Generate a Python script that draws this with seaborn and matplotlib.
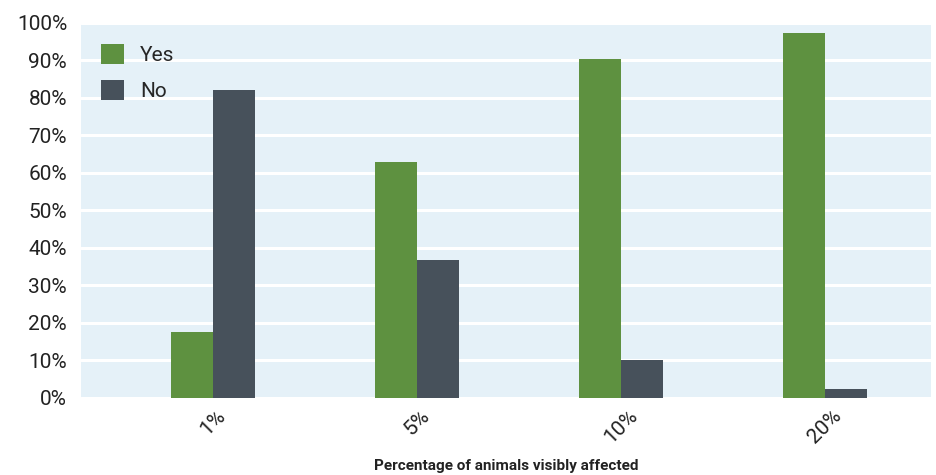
import matplotlib
matplotlib.use("Agg")
import matplotlib.pyplot as plt
import seaborn as sns
import pandas as pd

categories = ["1%", "5%", "10%", "20%"]
yes_values = [17.5, 63.0, 90.3, 97.2]
no_values = [82.1, 36.8, 10.0, 2.4]
series_names = ["Yes", "No"]
y_ticks = list(range(0, 101, 10))

df = pd.DataFrame({
    "category": categories * 2,
    "value": yes_values + no_values,
    "answer": [series_names[0]] * len(categories) + [series_names[1]] * len(categories),
})

sns.set_theme(style="white")
plt.rcParams["font.family"] = ["Roboto", "DejaVu Sans"]

fig = plt.figure(figsize=(9.36, 4.75), dpi=100)
ax = fig.add_axes([0.0865, 0.1627, 0.908, 0.789])
ax.set_facecolor("#E5F1F8")

sns.barplot(
    data=df, x="category", y="value", hue="answer", order=categories,
    hue_order=series_names, palette={"Yes": "#5E9140", "No": "#47515B"},
    width=0.41, saturation=1, linewidth=0, edgecolor="none", ax=ax, zorder=3,
)

ax.set_ylim(0, 100)
ax.set_xlim(-0.647, 3.52)
ax.set_yticks(y_ticks)
ax.set_yticklabels([f"{t}%" for t in y_ticks], fontsize=15, color="#222222")
ax.yaxis.grid(True, color="white", linewidth=2.2, zorder=1)
ax.set_axisbelow(True)
ax.tick_params(axis="both", length=0)
ax.tick_params(axis="y", pad=10)
ax.tick_params(axis="x", pad=6)
for lbl in ax.get_xticklabels():
    lbl.set_rotation(45)
    lbl.set_fontsize(15)
    lbl.set_color("#222222")
    lbl.set_ha("center")
for s in ax.spines.values():
    s.set_visible(False)

ax.set_ylabel("")
ax.set_xlabel("Percentage of animals visibly affected", fontsize=11,
              fontweight="bold", color="#222222", labelpad=9)

leg = ax.legend(loc="upper left", bbox_to_anchor=(0.002, 0.995), frameon=False,
                fontsize=15, handlelength=1.1, handleheight=1.1,
                handletextpad=0.75, labelspacing=0.75, title=None)

fig.savefig("out.png", dpi=100)
